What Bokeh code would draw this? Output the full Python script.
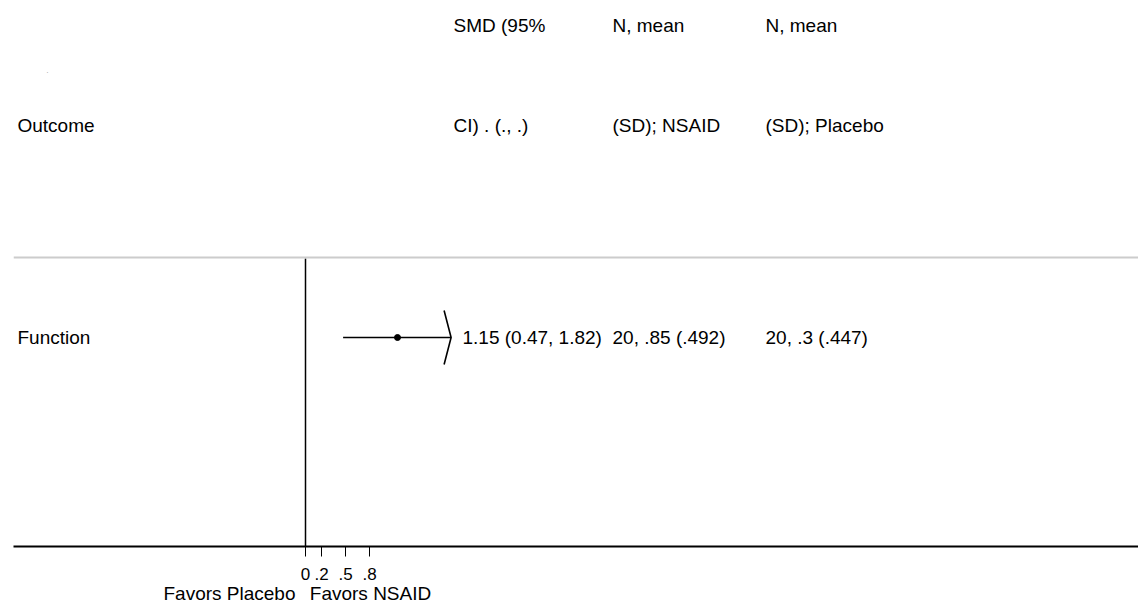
from bokeh.plotting import figure
from bokeh.models import Range1d, FixedTicker, Span, LinearAxis, ColumnDataSource
from bokeh.core.properties import value
from bokeh.embed import file_html
from bokeh.resources import INLINE

# ---- data ----
outcomes = ["Function"]
smd = [1.15]
ci_low = [0.47]
ci_high = [1.82]
smd_text = ["1.15 (0.47, 1.82)"]
nsaid_text = ["20, .85 (.492)"]
placebo_text = ["20, .3 (.447)"]
header_line1 = ["", "SMD (95%", "N, mean", "N, mean"]
header_line2 = ["Outcome", "CI)  . (., .)", "(SD); NSAID", "(SD); Placebo"]
tick_values = [0, 0.2, 0.5, 0.8]
tick_labels = ["0", ".2", ".5", ".8"]
favors = ["Favors Placebo", "Favors NSAID"]

# ---- layout ----
PX = 80.0            # pixels per SMD unit
LEFT = 13
TOP = 8
BOTTOM = 546
HEIGHT = 607
ZERO_PX = 305
xmin = (LEFT - ZERO_PX) / PX
xmax = (1138 - ZERO_PX) / PX
def px2x(px):  # page x pixel -> data x
    return (px - ZERO_PX) / PX
def py2y(py):  # page y pixel -> data y
    return BOTTOM - py

col_x = [px2x(17), px2x(453), px2x(612), px2x(765)]
FONT = value("Liberation Sans")
FS = "19px"

p = figure(width=1138, height=HEIGHT, output_backend="svg", toolbar_location=None,
           x_range=Range1d(xmin, xmax), y_range=Range1d(0, BOTTOM - TOP),
           y_axis_location=None, min_border_left=LEFT, min_border_right=0,
           min_border_top=TOP, min_border_bottom=HEIGHT - BOTTOM)
p.outline_line_color = None
p.xgrid.visible = False
p.ygrid.visible = False
p.background_fill_color = "white"
p.border_fill_color = "white"

# headers
hsrc1 = ColumnDataSource(dict(x=col_x, y=[py2y(25)] * 4, t=header_line1))
hsrc2 = ColumnDataSource(dict(x=col_x, y=[py2y(125)] * 4, t=header_line2))
for s in (hsrc1, hsrc2):
    p.text(x="x", y="y", text="t", source=s, text_font=FONT, text_font_size=FS,
           text_baseline="middle", text_align="left", text_color="black")
p.text(x=[px2x(46)], y=[py2y(70)], text=["."], text_font=FONT, text_font_size="7px",
       text_color="#888888", text_baseline="middle")

sep = Span(location=py2y(257), dimension="width", line_color="#cccccc", line_width=2)
p.add_layout(sep)

# rows
row_y = [py2y(337)]
p.text(x=[col_x[0]] * len(outcomes), y=row_y, text=outcomes, text_font=FONT,
       text_font_size=FS, text_baseline="middle", text_color="black")
p.text(x=[px2x(462)] * len(outcomes), y=row_y, text=smd_text, text_font=FONT,
       text_font_size=FS, text_baseline="middle", text_color="black")
p.text(x=[col_x[2]] * len(outcomes), y=row_y, text=nsaid_text, text_font=FONT,
       text_font_size=FS, text_baseline="middle", text_color="black")
p.text(x=[col_x[3]] * len(outcomes), y=row_y, text=placebo_text, text_font=FONT,
       text_font_size=FS, text_baseline="middle", text_color="black")

# null line
p.segment(x0=[0], y0=[0], x1=[0], y1=[py2y(258)], line_color="black", line_width=1.5)

# CI and point
p.segment(x0=ci_low, y0=row_y, x1=ci_high, y1=row_y, line_color="black", line_width=1.6)
p.scatter(x=smd, y=row_y, size=6, marker="circle", fill_color="black", line_color="black")
# arrow head at upper bound
aw = 7 / PX
xs = [[h - aw, h, h - aw] for h in ci_high]
ys = [[y + 27, y, y - 27] for y in row_y]
p.multi_line(xs=xs, ys=ys, line_color="black", line_width=1.6)

# x axis
ax = p.xaxis[0]
ax.ticker = FixedTicker(ticks=tick_values)
ax.major_label_overrides = {v: l for v, l in zip(tick_values, tick_labels)}
ax.axis_line_width = 2
ax.axis_line_color = "black"
ax.major_tick_out = 10
ax.major_tick_in = 0
ax.minor_tick_line_color = None
ax.major_tick_line_color = "black"
ax.major_tick_line_width = 1
ax.major_label_text_font = "Liberation Sans"
ax.major_label_text_font_size = "17px"
ax.major_label_text_color = "black"
ax.major_label_standoff = 11

# "Favors" captions as a second, line-less axis below
fav_pos = [px2x(229), px2x(370)]
ax2 = LinearAxis(ticker=FixedTicker(ticks=fav_pos),
                 major_label_overrides={v: t for v, t in zip(fav_pos, favors)},
                 axis_line_color=None, major_tick_line_color=None,
                 minor_tick_line_color=None, major_tick_out=0, major_tick_in=0,
                 major_label_standoff=0, major_label_text_font="Liberation Sans",
                 major_label_text_font_size="19px", major_label_text_color="black")
p.add_layout(ax2, "below")

open("out.html", "w").write(file_html(p, INLINE))
